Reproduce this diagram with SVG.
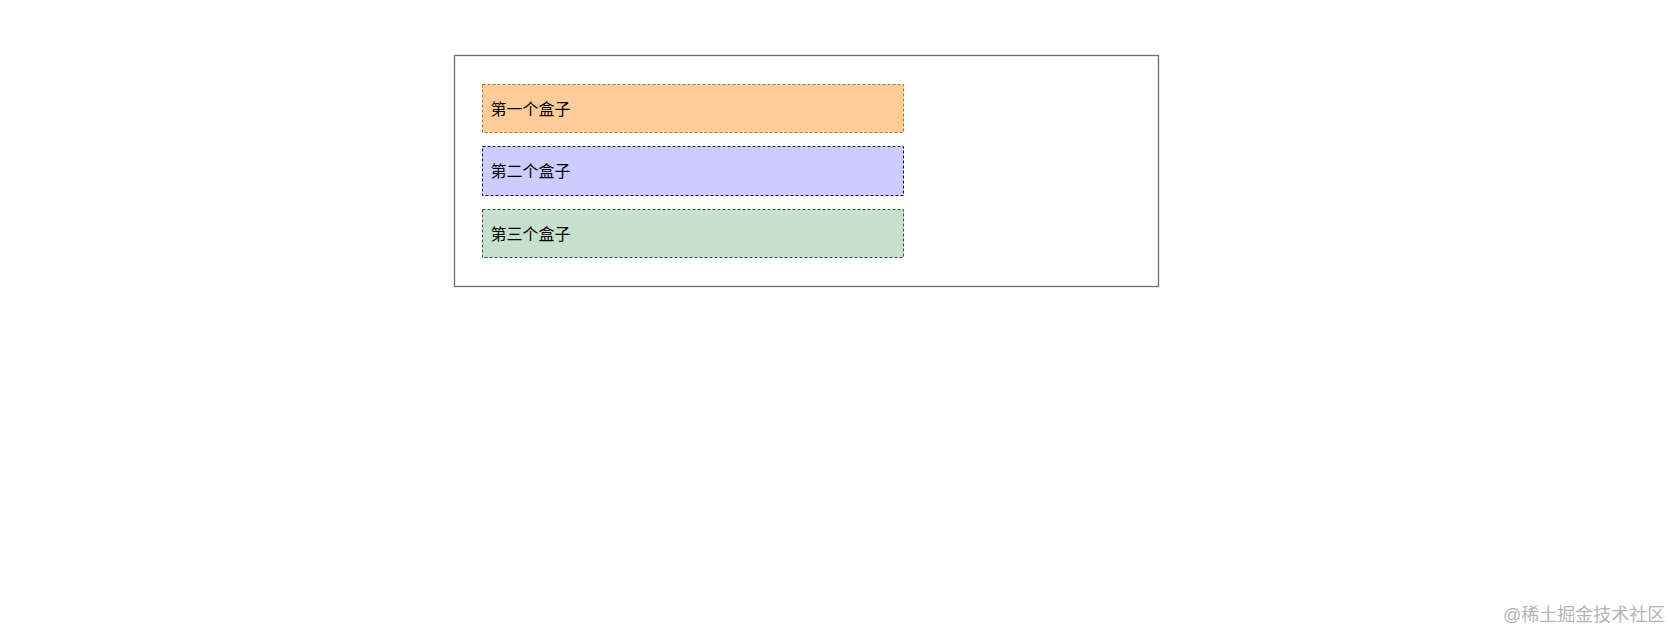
<svg xmlns="http://www.w3.org/2000/svg" width="1669" height="631" viewBox="0 0 1669 631">
<style>
.box{stroke-width:1;stroke-dasharray:3 2}
.lbl{font-family:"Liberation Sans","Noto Sans CJK SC",sans-serif;font-size:16px;fill:#000}
.wm{font-family:"Liberation Sans","Noto Sans CJK SC",sans-serif;font-size:18px;fill:#b4b4b4}
</style>
<rect width="1669" height="631" fill="#fff"/>
<g id="container">
<rect x="454.5" y="55.5" width="704" height="231" fill="#fff" stroke="#6e6e6e" stroke-width="1.3"/>
</g>
<g id="box1">
<rect class="box" x="482.5" y="84.5" width="421" height="48" fill="#ffcc99" stroke="#b87320"/>
<text class="lbl" x="490.5" y="115">第一个盒子</text>
</g>
<g id="box2">
<rect class="box" x="482.5" y="146.5" width="421" height="49" fill="#ccccff" stroke="#000080"/>
<text class="lbl" x="490.5" y="177">第二个盒子</text>
</g>
<g id="box3">
<rect class="box" x="482.5" y="209.5" width="421" height="48" fill="#c6e0cd" stroke="#335544"/>
<text class="lbl" x="490.5" y="240">第三个盒子</text>
</g>
<g id="connectors"></g>
<text class="wm" x="1503" y="621">@稀土掘金技术社区</text>
</svg>
